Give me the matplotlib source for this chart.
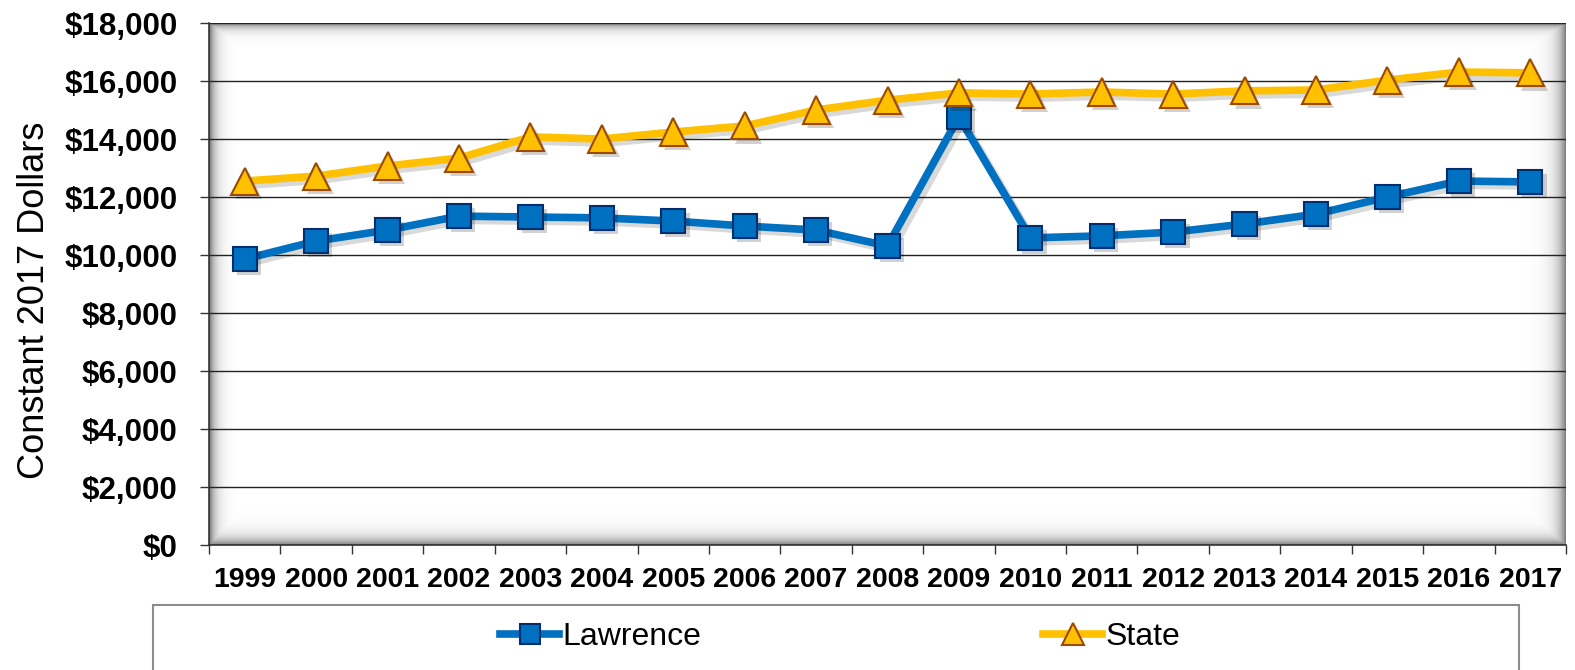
"""
Per-pupil spending in constant 2017 dollars: Lawrence vs State, 1999-2017.
"""

import matplotlib

matplotlib.use("Agg")
import matplotlib.pyplot as plt
import matplotlib.patheffects as pe
import numpy as np
from matplotlib.patches import Rectangle
from matplotlib.ticker import FuncFormatter, MultipleLocator

# ===== Data =====
YEARS = [str(y) for y in range(1999, 2018)]
LAWRENCE = [9860, 10480, 10860, 11340, 11310, 11280, 11170, 11000, 10860, 10310,
            14760, 10590, 10660, 10790, 11070, 11410, 12000, 12550, 12520]
STATE = [12550, 12720, 13070, 13340, 14070, 14000, 14240, 14450, 15000, 15340,
         15590, 15550, 15620, 15550, 15660, 15690, 16030, 16310, 16280]

BLUE = "#0070C0"
BLUE_EDGE = "#002E6E"
GOLD = "#FFC000"
GOLD_EDGE = "#9C4A00"

FONT = "Liberation Sans"
plt.rcParams["font.family"] = [FONT, "DejaVu Sans"]


def inner_shadow(ax):
    """Grey fade along the inside edges of the plot area."""
    bbox = ax.get_window_extent()
    w, h = int(bbox.width), int(bbox.height)
    xx, yy = np.meshgrid(np.arange(w, dtype=float), np.arange(h, dtype=float))
    shade = np.max(np.stack([
        np.exp(-xx / 6.0) * 0.55,
        np.exp(-(w - 1 - xx) / 8.0) * 0.5,
        np.exp(-yy / 5.0) * 0.5,
        np.exp(-(h - 1 - yy) / 7.0) * 0.5,
    ]), axis=0)
    img = 1.0 - shade
    ax.imshow(img, cmap="gray", vmin=0, vmax=1, extent=(0, 1, 0, 1),
              transform=ax.transAxes, aspect="auto", zorder=0,
              interpolation="bilinear")


def main():
    fig = plt.figure(figsize=(15.75, 6.7), dpi=100)
    ax = fig.add_axes([209 / 1575, 125 / 670, 1357 / 1575, 522 / 670])

    x = np.arange(len(YEARS))
    shadow_line = [pe.SimpleLineShadow(offset=(3, -3), shadow_color="k", alpha=0.15), pe.Normal()]
    shadow_mark = [pe.SimplePatchShadow(offset=(3, -3), shadow_rgbFace="k", alpha=0.18), pe.Normal()]

    # lines
    ax.plot(x, LAWRENCE, color=BLUE, lw=5.5, zorder=3, solid_capstyle="round",
            path_effects=shadow_line)
    ax.plot(x, STATE, color=GOLD, lw=5.5, zorder=3, solid_capstyle="round",
            path_effects=shadow_line)
    # markers
    ax.plot(x, LAWRENCE, ls="none", marker="s", ms=17.5, mfc=BLUE, mec=BLUE_EDGE,
            mew=1.5, zorder=4, path_effects=shadow_mark)
    ax.plot(x, STATE, ls="none", marker="^", ms=19.5, mfc=GOLD, mec=GOLD_EDGE,
            mew=1.5, zorder=4, path_effects=shadow_mark)

    ax.set_xlim(-0.5, len(YEARS) - 0.5)
    ax.set_ylim(0, 18000)

    # y axis
    ax.yaxis.set_major_locator(MultipleLocator(2000))
    ax.yaxis.set_major_formatter(FuncFormatter(lambda v, _: f"${v:,.0f}"))
    ax.tick_params(axis="y", direction="out", length=6.5, width=1, pad=16,
                   labelsize=22.5, color="#333333")
    for lab in ax.get_yticklabels():
        lab.set_fontweight("bold")
    ax.grid(axis="y", color="#222222", lw=1, zorder=1)
    ax.set_axisbelow(True)

    # x axis: labels at centres, tick marks at boundaries
    ax.set_xticks(x)
    ax.set_xticklabels(YEARS, fontweight="bold")
    ax.set_xticks(np.arange(-0.5, len(YEARS)), minor=True)
    ax.tick_params(axis="x", which="major", length=0, pad=16, labelsize=20.5)
    ax.tick_params(axis="x", which="minor", direction="out", length=6.5,
                   width=1, color="#333333")

    for side in ("top", "right"):
        ax.spines[side].set_visible(False)
    ax.spines["left"].set_color("#333333")
    ax.spines["bottom"].set_color("#333333")
    ax.spines["left"].set_linewidth(1.2)
    ax.spines["bottom"].set_linewidth(1.2)

    fig.text(35 / 1575, 1 - 300 / 670, "Constant 2017 Dollars", rotation=90,
             ha="center", va="center", fontsize=26)

    inner_shadow(ax)

    # legend box (runs off the bottom of the figure)
    box = Rectangle((153 / 1575, -0.05), (1519 - 153) / 1575, 0.05 + 65 / 670,
                    transform=fig.transFigure, fill=False, ec="#8C8C8C",
                    lw=1.5, clip_on=False)
    fig.add_artist(box)

    h1, = ax.plot([], [], color=BLUE, lw=5.5, marker="s", ms=15, mfc=BLUE,
                  mec=BLUE_EDGE, mew=1.5)
    h2, = ax.plot([], [], color=GOLD, lw=5.5, marker="^", ms=16, mfc=GOLD,
                  mec=GOLD_EDGE, mew=1.5)
    fig.legend([h1, h2], ["Lawrence", "State"], loc="center",
               bbox_to_anchor=(840 / 1575, 1 - 637 / 670), ncol=2,
               frameon=False, fontsize=23, handlelength=1.85,
               handletextpad=0.1, columnspacing=10.7)

    fig.savefig("out.png", dpi=100)


if __name__ == "__main__":
    main()
